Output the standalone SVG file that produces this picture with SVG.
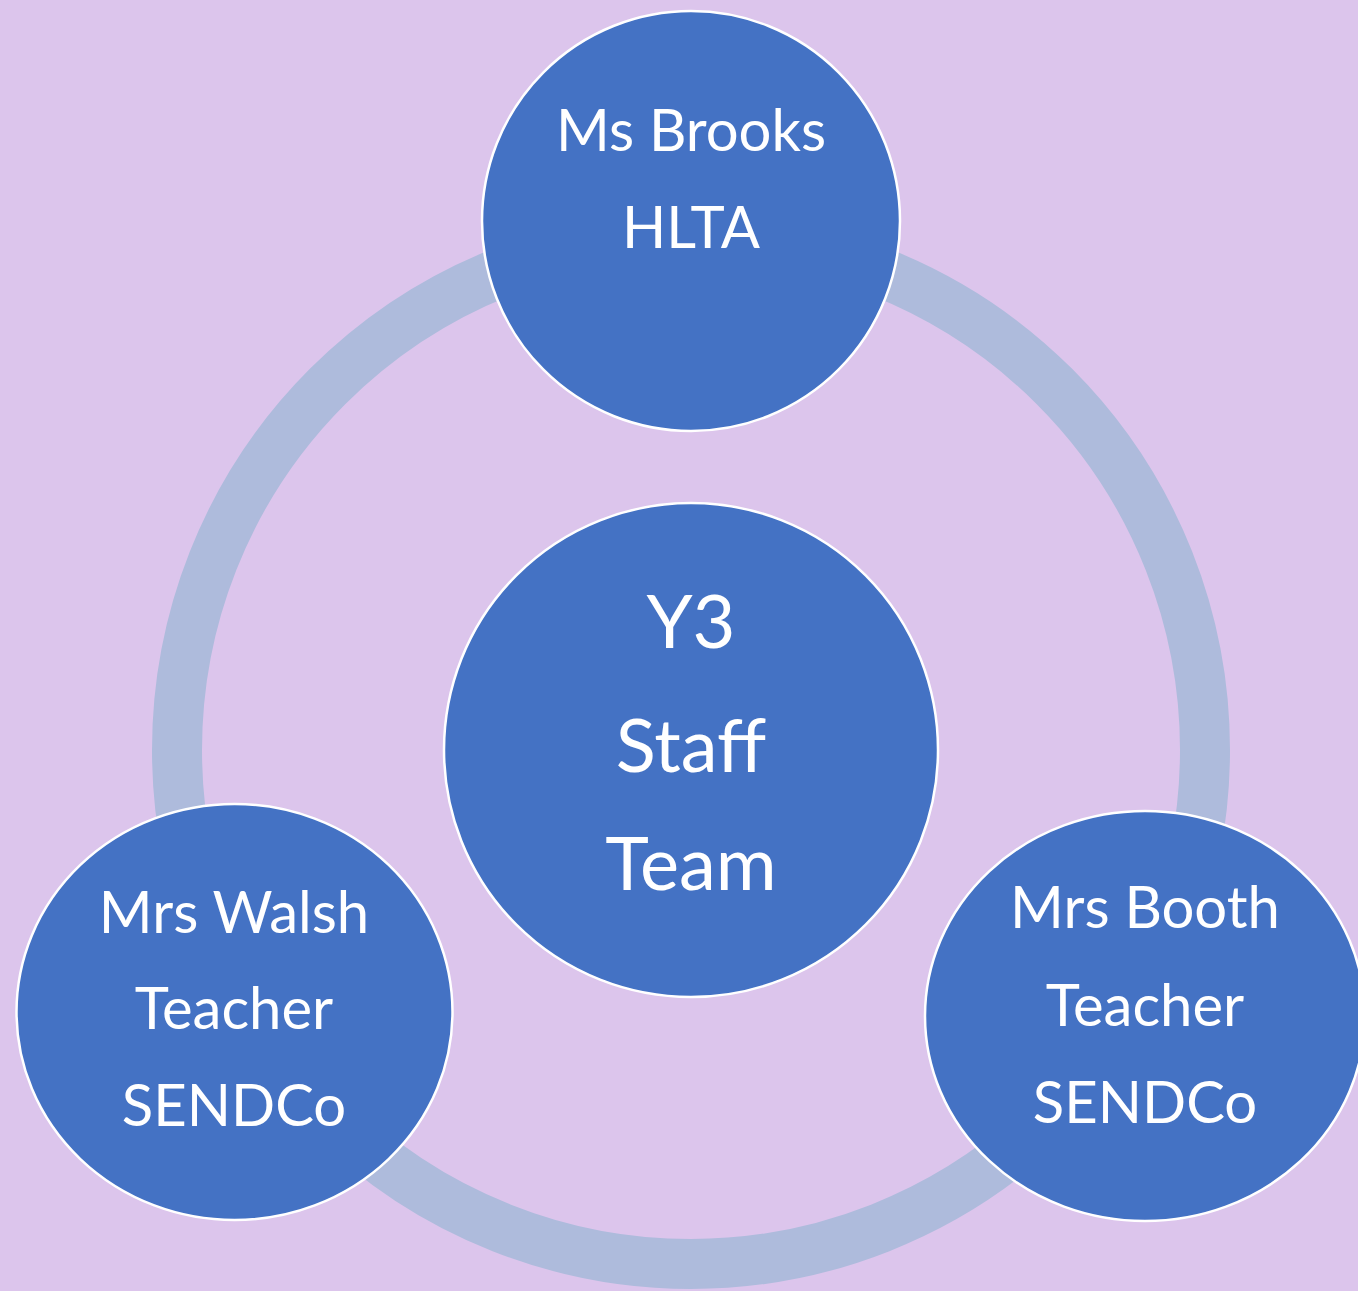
<svg xmlns="http://www.w3.org/2000/svg" width="1358" height="1291" viewBox="0 0 1358 1291">
<style>
.node{fill:#4472C4;stroke:#FFFFFF;stroke-width:2.5}
.lbl{fill:#FFFFFF;font-family:Lato,"Open Sans","Liberation Sans",sans-serif;font-size:58px;text-anchor:middle}
.big{font-size:74px}
</style>
<rect x="0" y="0" width="1358" height="1291" fill="#DCC5EC"/>
<g id="connectors">
<circle cx="691" cy="750" r="514" fill="none" stroke="#AEBBDC" stroke-width="50"/>
</g>
<g id="center">
<circle class="node" cx="691" cy="750" r="247"/>
<text class="lbl big" x="691" y="648">Y3</text>
<text class="lbl big" x="691" y="772">Staff</text>
<text class="lbl big" x="691" y="890">Team</text>
</g>
<g id="top">
<ellipse class="node" cx="691" cy="221" rx="209" ry="210"/>
<text class="lbl" x="691" y="151">Ms Brooks</text>
<text class="lbl" x="691" y="248">HLTA</text>
</g>
<g id="left">
<ellipse class="node" cx="234.5" cy="1012" rx="218" ry="208"/>
<text class="lbl" x="234" y="933">Mrs Walsh</text>
<text class="lbl" x="234" y="1029">Teacher</text>
<text class="lbl" x="234" y="1126">SENDCo</text>
</g>
<g id="right">
<ellipse class="node" cx="1145" cy="1016" rx="220" ry="205"/>
<text class="lbl" x="1145" y="928">Mrs Booth</text>
<text class="lbl" x="1145" y="1026">Teacher</text>
<text class="lbl" x="1145" y="1123">SENDCo</text>
</g>
</svg>
